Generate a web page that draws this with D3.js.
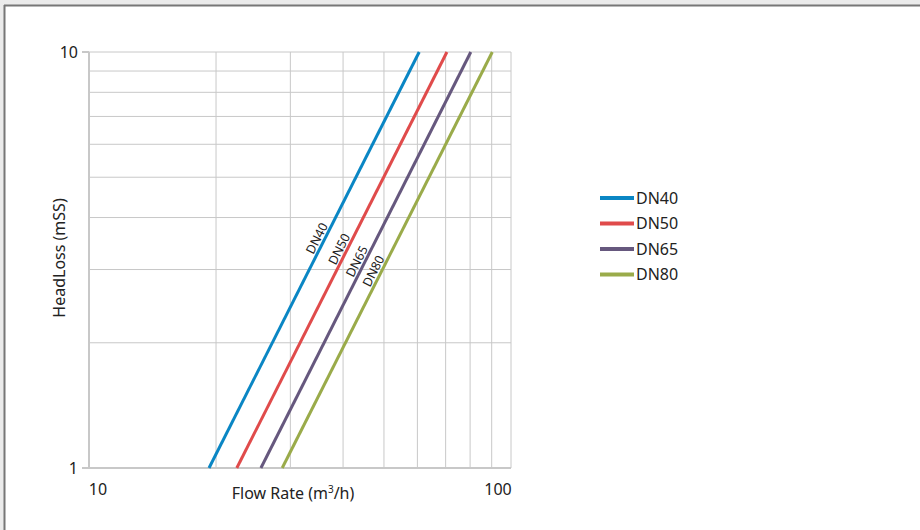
<!DOCTYPE html>
<html>
<head>
  <meta charset="utf-8">
  <title>HeadLoss chart</title>
  <script src="https://d3js.org/d3.v7.min.js"></script>
  <style>
    body { margin: 0; background: #ebebeb; }
    svg { display: block; font-family: "Noto Sans", sans-serif; }
  </style>
</head>
<body>
  <div id="chart"></div>
  <script>
    // series names + flow (m3/h) read at head 1 and head 10
    var seriesNames = ["DN40", "DN50", "DN65", "DN80"];
    var seriesColors = ["#0a86c4", "#e04b4b", "#66587e", "#9aab4a"];
    var headValues = [1, 10];
    var flowValues = [
      [19.25, 60.6],
      [22.4, 70.5],
      [25.55, 80.3],
      [28.7, 90.3]
    ];
    var xTickLabels = [10, 100];
    var yTickLabels = [1, 10];
    var gridX = [20, 30, 40, 50, 60, 70, 80, 90];
    var gridY = [2, 3, 4, 5, 6, 7, 8, 9];
    // head where each inline label sits
    var labelHead = [3.5, 3.3, 3.08, 2.92];

    var W = 920, H = 530;
    var margin = { top: 52, left: 89, right: 409, bottom: 62 };
    var width = W - margin.left - margin.right,
        height = H - margin.top - margin.bottom;

    var svg = d3.select("#chart").append("svg")
      .attr("width", W).attr("height", H);

    // page frame
    svg.append("rect").attr("x", 4).attr("y", 5).attr("width", W - 4).attr("height", H - 5)
      .attr("fill", "#fff");
    svg.append("line").attr("x1", 4).attr("x2", W).attr("y1", 5.5).attr("y2", 5.5)
      .attr("stroke", "#777").attr("stroke-width", 2);
    svg.append("line").attr("x1", 4.5).attr("x2", 4.5).attr("y1", 5).attr("y2", H)
      .attr("stroke", "#777").attr("stroke-width", 2);

    var x = d3.scaleLog().domain([10, 100]).range([0, width]);
    var y = d3.scaleLog().domain([1, 10]).range([height, 0]);

    var g = svg.append("g").attr("transform", "translate(" + margin.left + "," + margin.top + ")");

    // grid
    g.selectAll(".gx").data(gridX.concat([100])).enter().append("line")
      .attr("x1", d => x(d)).attr("x2", d => x(d))
      .attr("y1", 0).attr("y2", height)
      .attr("stroke", "#c8c8c8").attr("stroke-width", 1);
    g.selectAll(".gy").data(gridY.concat([10])).enter().append("line")
      .attr("x1", 0).attr("x2", width)
      .attr("y1", d => y(d)).attr("y2", d => y(d))
      .attr("stroke", "#c8c8c8").attr("stroke-width", 1);

    // axis lines
    g.append("line").attr("x1", 0).attr("x2", 0).attr("y1", 0).attr("y2", height)
      .attr("stroke", "#c8c8c8").attr("stroke-width", 2);
    g.append("line").attr("x1", 0).attr("x2", width).attr("y1", height).attr("y2", height)
      .attr("stroke", "#c8c8c8").attr("stroke-width", 2);

    // y ticks
    g.selectAll(".yt").data(yTickLabels).enter().append("line")
      .attr("x1", -7).attr("x2", 0)
      .attr("y1", d => y(d)).attr("y2", d => y(d))
      .attr("stroke", "#c8c8c8").attr("stroke-width", 2);
    g.selectAll(".yl").data(yTickLabels).enter().append("text")
      .attr("x", -11).attr("y", d => y(d)).attr("dy", "0.35em")
      .attr("text-anchor", "end").attr("font-size", 16).attr("fill", "#222")
      .text(d => d);

    // x tick labels (sit inside the ends)
    g.selectAll(".xl").data(xTickLabels).enter().append("text")
      .attr("x", d => x(d) + (d === 10 ? 9 : -13))
      .attr("y", height + 27)
      .attr("text-anchor", "middle").attr("font-size", 16).attr("fill", "#222")
      .text(d => d);

    // axis titles
    var xt = g.append("text").attr("x", 204).attr("y", height + 31)
      .attr("text-anchor", "middle").attr("font-size", 16).attr("fill", "#222");
    xt.append("tspan").text("Flow Rate (m");
    xt.append("tspan").attr("font-size", 10).attr("dy", -6).text("3");
    xt.append("tspan").attr("dy", 6).text("/h)");

    svg.append("text")
      .attr("transform", "translate(65," + (margin.top + 206) + ") rotate(-90)")
      .attr("text-anchor", "middle").attr("font-size", 16).attr("fill", "#222")
      .text("HeadLoss (mSS)");

    // series lines
    var line = d3.line().x(d => x(d[0])).y(d => y(d[1]));
    seriesNames.forEach(function (name, i) {
      var pts = headValues.map((h, j) => [flowValues[i][j], h]);
      g.append("path").datum(pts)
        .attr("d", line)
        .attr("fill", "none")
        .attr("stroke", seriesColors[i])
        .attr("stroke-width", 3);
    });

    // labels along lines
    seriesNames.forEach(function (name, i) {
      var q0 = flowValues[i][0], q1 = flowValues[i][1];
      var ang = Math.atan2(y(1) - y(10), x(q1) - x(q0)) * 180 / Math.PI;
      var t = Math.log10(labelHead[i]);
      var q = Math.pow(10, Math.log10(q0) + t * (Math.log10(q1) - Math.log10(q0)));
      g.append("text")
        .attr("transform", "translate(" + x(q) + "," + y(labelHead[i]) + ") rotate(" + (-ang) + ")")
        .attr("y", -3)
        .attr("text-anchor", "middle").attr("font-size", 12.5).attr("fill", "#222")
        .text(name);
    });

    // legend
    var leg = svg.append("g").attr("transform", "translate(600,198)");
    seriesNames.forEach(function (name, i) {
      var row = leg.append("g").attr("transform", "translate(0," + i * 25.5 + ")");
      row.append("line").attr("x1", 0).attr("x2", 34).attr("y1", 0).attr("y2", 0)
        .attr("stroke", seriesColors[i]).attr("stroke-width", 4);
      row.append("text").attr("x", 36).attr("y", 0).attr("dy", "0.35em")
        .attr("font-size", 16).attr("fill", "#222").text(name);
    });
  </script>
</body>
</html>
